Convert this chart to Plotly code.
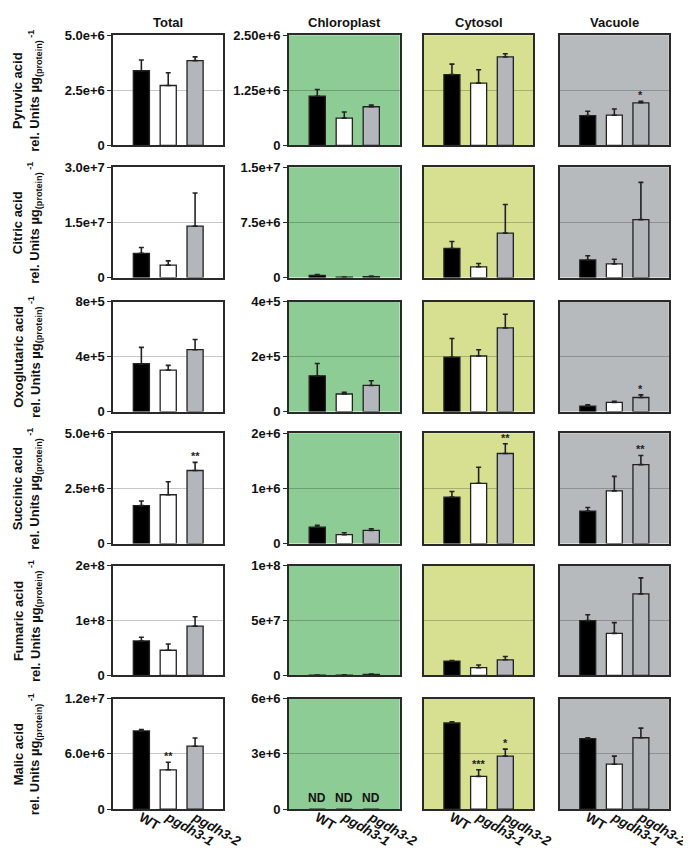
import plotly.graph_objects as go

W, H = 691, 852
FONT = "Liberation Sans, Arial, sans-serif"

genotypes = ["WT", "pgdh3-1", "pgdh3-2"]
tick_text = ["<b>WT</b>", "<b><i>pgdh3-1</i></b>", "<b><i>pgdh3-2</i></b>"]
bar_colors = ["#000000", "#ffffff", "#b3b6ba"]
metabolites = ["Pyruvic acid", "Citric acid", "Oxoglutaric acid",
               "Succinic acid", "Fumaric acid", "Malic acid"]
compartments = ["Total", "Chloroplast", "Cytosol", "Vacuole"]
panel_bg = ["#ffffff", "#8dcc95", "#d6e090", "#b7babd"]

# y-axis maxima and tick labels
total_ymax = [5e6, 3e7, 8e5, 5e6, 2e8, 1.2e7]
total_ticklabels = [["0", "2.5e+6", "5.0e+6"], ["0", "1.5e+7", "3.0e+7"],
                    ["0", "4e+5", "8e+5"], ["0", "2.5e+6", "5.0e+6"],
                    ["0", "1e+8", "2e+8"], ["0", "6.0e+6", "1.2e+7"]]
comp_ymax = [2.5e6, 1.5e7, 4e5, 2e6, 1e8, 6e6]
comp_ticklabels = [["0", "1.25e+6", "2.50e+6"], ["0", "7.5e+6", "1.5e+7"],
                   ["0", "2e+5", "4e+5"], ["0", "1e+6", "2e+6"],
                   ["0", "5e+7", "1e+8"], ["0", "3e+6", "6e+6"]]

# means (rows = metabolites, cols = WT, pgdh3-1, pgdh3-2)
total_mean = [[3.39e6, 2.72e6, 3.85e6], [6.6e6, 3.4e6, 1.40e7],
              [3.48e5, 3.02e5, 4.50e5], [1.72e6, 2.21e6, 3.31e6],
              [6.3e7, 4.6e7, 9.0e7], [8.5e6, 4.27e6, 6.84e6]]
total_err = [[0.49e6, 0.58e6, 0.17e6], [1.6e6, 1.15e6, 9.0e6],
             [1.19e5, 0.34e5, 0.74e5], [0.21e6, 0.59e6, 0.37e6],
             [0.66e7, 1.13e7, 1.72e7], [0.15e6, 0.82e6, 0.89e6]]
chloroplast_mean = [[1.116e6, 0.618e6, 0.878e6], [3.1e5, 0.5e5, 1.3e5],
                    [1.30e5, 0.64e5, 0.95e5], [2.97e5, 1.6e5, 2.37e5],
                    [3e5, 4e5, 1.0e6], [0, 0, 0]]
chloroplast_err = [[0.154e6, 0.141e6, 0.037e6], [0.9e5, 0.3e5, 0.9e5],
                   [0.45e5, 0.06e5, 0.17e5], [0.35e5, 0.36e5, 0.3e5],
                   [1e5, 1e5, 2e5], None]
cytosol_mean = [[1.607e6, 1.414e6, 2.009e6], [3.96e6, 1.47e6, 6.05e6],
                [1.976e5, 2.02e5, 3.04e5], [0.843e6, 1.092e6, 1.632e6],
                [1.31e7, 0.71e7, 1.43e7], [4.68e6, 1.78e6, 2.88e6]]
cytosol_err = [[0.238e6, 0.305e6, 0.074e6], [0.94e6, 0.44e6, 3.88e6],
               [0.68e5, 0.23e5, 0.50e5], [0.10e6, 0.29e6, 0.178e6],
               [0.06e7, 0.24e7, 0.30e7], [0.06e6, 0.36e6, 0.38e6]]
vacuole_mean = [[0.677e6, 0.685e6, 0.967e6], [2.40e6, 1.87e6, 7.88e6],
                [0.20e5, 0.333e5, 0.512e5], [0.588e6, 0.955e6, 1.43e6],
                [5.0e7, 3.84e7, 7.44e7], [3.83e6, 2.44e6, 3.88e6]]
vacuole_err = [[0.097e6, 0.141e6, 0.037e6], [0.58e6, 0.62e6, 5.07e6],
               [0.05e5, 0.04e5, 0.095e5], [0.065e6, 0.262e6, 0.166e6],
               [0.54e7, 0.98e7, 1.46e7], [0.05e6, 0.44e6, 0.52e6]]

# significance marks
total_sig = [["", "", ""], ["", "", ""], ["", "", ""], ["", "", "**"], ["", "", ""], ["", "**", ""]]
chloroplast_sig = [["", "", ""]] * 6
cytosol_sig = [["", "", ""], ["", "", ""], ["", "", ""], ["", "", "**"], ["", "", ""], ["", "***", "*"]]
vacuole_sig = [["", "", "*"], ["", "", ""], ["", "", "*"], ["", "", "**"], ["", "", ""], ["", "", ""]]
chloroplast_nd = [False, False, False, False, False, True]

means = [total_mean, chloroplast_mean, cytosol_mean, vacuole_mean]
errs = [total_err, chloroplast_err, cytosol_err, vacuole_err]
sigs = [total_sig, chloroplast_sig, cytosol_sig, vacuole_sig]

# panel pixel geometry
col_px = [(108.3, 221.7), (289.3, 403.3), (428.3, 541.0), (568.3, 680.5)]
row_px = [(20.7, 132.7), (155.0, 267.3), (291.7, 403.7),
          (425.7, 538.0), (560.7, 672.3), (696.0, 808.3)]

fig = go.Figure()
layout = dict(width=W, height=H, margin=dict(l=0, r=0, t=0, b=0),
              paper_bgcolor="white", plot_bgcolor="rgba(0,0,0,0)",
              showlegend=False, font=dict(family=FONT, color="#111"),
              bargap=0.4)
annotations = []
shapes = []

for r in range(6):
    for c in range(4):
        k = r * 4 + c + 1
        xa = "x" if k == 1 else f"x{k}"
        ya = "y" if k == 1 else f"y{k}"
        xl = "xaxis" if k == 1 else f"xaxis{k}"
        yl = "yaxis" if k == 1 else f"yaxis{k}"
        x0, x1 = col_px[c]
        y0, y1 = row_px[r]
        ymax = total_ymax[r] if c == 0 else comp_ymax[r]
        tlab = total_ticklabels[r] if c == 0 else comp_ticklabels[r]
        m = means[c][r]
        e = errs[c][r]
        err_dict = dict(type="data", symmetric=False, array=e, arrayminus=[0, 0, 0],
                        color="#222", thickness=1.6, width=2.5) if e is not None else None
        fig.add_trace(go.Bar(
            x=genotypes, y=m, xaxis=xa, yaxis=ya, width=0.6,
            marker=dict(color=bar_colors, line=dict(color="#222", width=1.3)),
            error_y=err_dict, hoverinfo="skip"))
        layout[xl] = dict(domain=[x0 / W, x1 / W], anchor=ya,
                          range=[-1.05, 3.05], type="category",
                          categoryorder="array", categoryarray=genotypes,
                          tickvals=genotypes, ticktext=tick_text,
                          showticklabels=(r == 5), tickangle=30,
                          ticklabelstandoff=-6,
                          tickfont=dict(size=13.5, family=FONT, color="#111"),
                          ticks="", showgrid=False, zeroline=False,
                          showline=True, mirror=True, linecolor="#2a2a2a", linewidth=1.5,
                          fixedrange=True)
        layout[yl] = dict(domain=[1 - y1 / H, 1 - y0 / H], anchor=xa,
                          range=[0, ymax], tickvals=[0, ymax / 2, ymax],
                          ticktext=[f"<b>{t}</b>" for t in tlab],
                          showticklabels=(c < 2),
                          ticks="outside" if c < 2 else "", ticklen=4,
                          tickcolor="#2a2a2a", tickwidth=1.3,
                          tickfont=dict(size=13, family=FONT, color="#111"),
                          showgrid=True, gridcolor="rgba(0,0,0,0.22)", gridwidth=1,
                          zeroline=False, showline=True, mirror=True,
                          linecolor="#2a2a2a", linewidth=1.5, fixedrange=True)
        if c > 0:
            shapes.append(dict(type="rect", xref=f"{xa} domain", yref=f"{ya} domain",
                               x0=0, x1=1, y0=0, y1=1, fillcolor=panel_bg[c],
                               line=dict(width=0), layer="below"))
        # significance marks
        for i, s in enumerate(sigs[c][r]):
            if s:
                top = m[i] + (e[i] if e is not None else 0)
                annotations.append(dict(x=genotypes[i], y=top, xref=xa, yref=ya,
                                        text=f"<b>{s}</b>", showarrow=False,
                                        yanchor="middle", yshift=6,
                                        font=dict(size=11, family=FONT, color="#222")))
        if c == 1 and chloroplast_nd[r]:
            for g in genotypes:
                annotations.append(dict(x=g, y=0, xref=xa, yref=ya, text="<b>ND</b>",
                                        showarrow=False, yanchor="bottom", yshift=2,
                                        font=dict(size=12, family=FONT, color="#111")))

# column titles
for c, name in enumerate(compartments):
    x0, x1 = col_px[c]
    annotations.append(dict(x=(x0 + x1) / 2 / W, y=1 - 8 / H, xref="paper", yref="paper",
                            text=f"<b>{name}</b>", showarrow=False,
                            xanchor="center", yanchor="middle",
                            font=dict(size=13, family=FONT, color="#111")))

# row labels
for r, name in enumerate(metabolites):
    y0, y1 = row_px[r]
    annotations.append(dict(x=20 / W, y=1 - (y0 + y1) / 2 / H, xref="paper", yref="paper",
                            text=f"<b>{name}</b><br><b>rel. Units µg<sub>(protein)</sub><sup> -1</sup></b>",
                            showarrow=False, textangle=-90,
                            xanchor="center", yanchor="middle",
                            font=dict(size=13, family=FONT, color="#111")))

layout["annotations"] = annotations
layout["shapes"] = shapes
fig.update_layout(**layout)
fig.write_html("out.html")
